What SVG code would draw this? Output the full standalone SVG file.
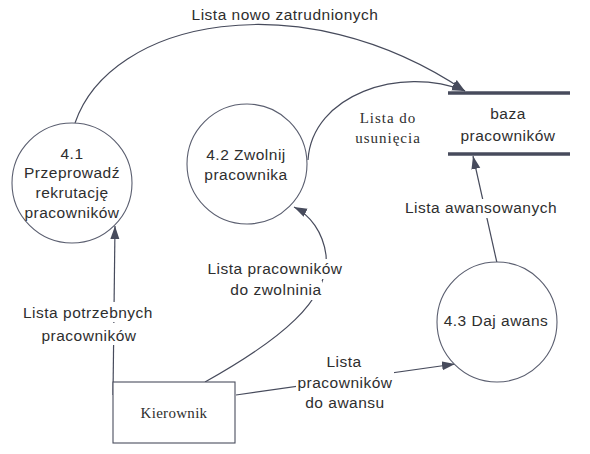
<svg xmlns="http://www.w3.org/2000/svg" width="590" height="454" viewBox="0 0 590 454">
<style>
.bg{fill:#ffffff}
.proc{fill:#ffffff;stroke:#5a5e6f;stroke-width:1.1}
.ent{fill:#ffffff;stroke:#4a4e5e;stroke-width:1.1}
.store{stroke:#474b5c;stroke-width:3.5;fill:none}
.flow{fill:none;stroke:#474b5c;stroke-width:1.2}
.t{font-family:"Liberation Sans",Arial,sans-serif;font-size:15.5px;letter-spacing:0.5px;fill:#2e2e2e;text-anchor:middle}
.s{font-family:"Liberation Serif","Times New Roman",serif;font-size:15px;fill:#2e2e2e;text-anchor:middle}
.lb{fill:#ffffff}
</style>
<defs>
<marker id="arr" markerUnits="userSpaceOnUse" markerWidth="14" markerHeight="10" refX="13" refY="5" orient="auto">
<path d="M0,0.5 L13,5 L0,9.5 Z" fill="#474b5c"/>
</marker>
</defs>
<rect class="bg" x="0" y="0" width="590" height="454"/>

<g id="connectors">
<path class="flow" d="M75,123 C110,20 300,-20 465,91" marker-end="url(#arr)"/>
<path class="flow" d="M308,160 C312,95 400,65 465,91" marker-end="url(#arr)"/>
<path class="flow" d="M113,395 L115,226" marker-end="url(#arr)"/>
<path class="flow" d="M205,382 C280,340 330,300 326,255 C323,232 310,215 294,207" marker-end="url(#arr)"/>
<path class="flow" d="M236,395 L455,364" marker-end="url(#arr)"/>
<path class="flow" d="M497,263 L473,156" marker-end="url(#arr)"/>
</g>

<g id="labels">
<rect class="lb" x="191" y="5" width="188" height="18"/>
<text class="t" x="285" y="20">Lista nowo zatrudnionych</text>
<text class="s" x="388" y="123" style="letter-spacing:1px">Lista do</text>
<text class="s" x="388" y="143" style="letter-spacing:1px">usunięcia</text>
<rect class="lb" x="403" y="199" width="155" height="19"/>
<text class="t" x="481" y="213">Lista awansowanych</text>
<rect class="lb" x="20" y="302" width="137" height="20"/>
<rect class="lb" x="42" y="323" width="94" height="22"/>
<text class="t" x="88" y="318">Lista potrzebnych</text>
<text class="t" x="89" y="341">pracowników</text>
<rect class="lb" x="206" y="259" width="138" height="20"/>
<rect class="lb" x="231" y="281" width="91" height="19"/>
<text class="t" x="275" y="274">Lista pracowników</text>
<text class="t" x="276" y="295">do zwolninia</text>
<rect class="lb" x="323" y="352" width="42" height="19"/>
<rect class="lb" x="296" y="372" width="98" height="21"/>
<rect class="lb" x="302" y="393" width="86" height="19"/>
<text class="t" x="344" y="367">Lista</text>
<text class="t" x="345" y="388">pracowników</text>
<text class="t" x="345" y="408">do awansu</text>
</g>

<g id="store-baza">
<line class="store" x1="448" y1="93" x2="570" y2="93"/>
<line class="store" x1="448" y1="154" x2="570" y2="154"/>
<text class="t" x="508" y="119">baza</text>
<text class="t" x="508" y="141">pracowników</text>
</g>

<g id="p41">
<circle class="proc" cx="72" cy="183" r="60"/>
<text class="t" x="72" y="159">4.1</text>
<text class="t" x="72" y="178">Przeprowadź</text>
<text class="t" x="72" y="198">rekrutację</text>
<text class="t" x="72" y="218">pracowników</text>
</g>

<g id="p42">
<circle class="proc" cx="247" cy="164" r="60"/>
<text class="t" x="246" y="160">4.2 Zwolnij</text>
<text class="t" x="246" y="180">pracownika</text>
</g>

<g id="p43">
<circle class="proc" cx="497" cy="322" r="60"/>
<text class="t" x="496" y="326">4.3 Daj awans</text>
</g>

<g id="kierownik">
<rect class="ent" x="113" y="382" width="122" height="61"/>
<text class="s" x="174" y="418" style="letter-spacing:0.3px">Kierownik</text>
</g>
</svg>
